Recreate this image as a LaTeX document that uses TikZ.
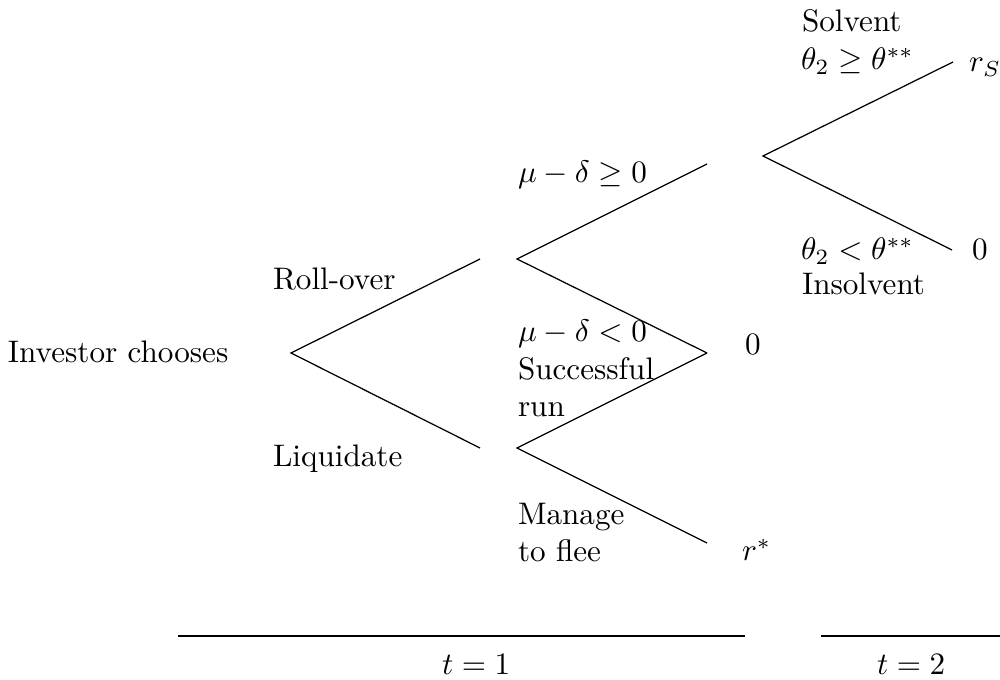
\documentclass[tikz,border=0pt]{standalone}
\usepackage{amsmath}
\begin{document}
\begin{tikzpicture}[x=0.3210pt,y=-0.3210pt,
  branch/.style={line width=0.4pt},
  lbl/.style={anchor=base west, inner sep=0pt, outer sep=0pt},
  axis/.style={line width=0.5pt}]
\useasboundingbox (0,0) rectangle (1000,680);
% tree points
\coordinate (root) at (291,353);
\coordinate (ro) at (480,259);
\coordinate (li) at (480,448);
\coordinate (n1) at (517,259);
\coordinate (n2) at (517,448);
\coordinate (a1) at (707,164);
\coordinate (mid) at (707,353);
\coordinate (a3) at (707,543);
\coordinate (n3) at (763,156);
\coordinate (b1) at (953,62);
\coordinate (b2) at (952,250);
\draw[branch] (ro) -- (root) -- (li);
\draw[branch] (a1) -- (n1) -- (mid);
\draw[branch] (mid) -- (n2) -- (a3);
\draw[branch] (b1) -- (n3) -- (b2);
% labels
\node[lbl] (inv) at (8,363) {Investor chooses};
\node[lbl] (rol) at (273,290) {Roll-over};
\node[lbl] (liq) at (273,467) {Liquidate};
\node[lbl] (m1) at (518,183) {$\mu-\delta\geq 0$};
\node[lbl] (m2) at (518,342) {$\mu-\delta< 0$};
\node[lbl] (s1) at (518,380) {Successful};
\node[lbl] (s2) at (518,417) {run};
\node[lbl] (f1) at (518,525) {Manage};
\node[lbl] (f2) at (518,562) {to flee};
\node[lbl] (z1) at (745,355) {$0$};
\node[lbl] (rs) at (742,561) {$r^{*}$};
\node[lbl] (sol) at (802,32) {Solvent};
\node[lbl] (t1) at (801,70) {$\theta_2\geq\theta^{**}$};
\node[lbl] (t2) at (801,260) {$\theta_2<\theta^{**}$};
\node[lbl] (ins) at (802,295) {Insolvent};
\node[lbl] (rS) at (969,72) {$r_S$};
\node[lbl] (z2) at (972,260) {$0$};
% time axis
\coordinate (ax1) at (178,636);
\coordinate (ax2) at (745,636);
\coordinate (ax3) at (821,636);
\coordinate (ax4) at (1000,636);
\draw[axis] (ax1) -- (ax2);
\draw[axis] (ax3) -- (ax4);
\node[lbl] (tt1) at (442,675) {$t=1$};
\node[lbl] (tt2) at (877,675) {$t=2$};
\end{tikzpicture}
\end{document}
